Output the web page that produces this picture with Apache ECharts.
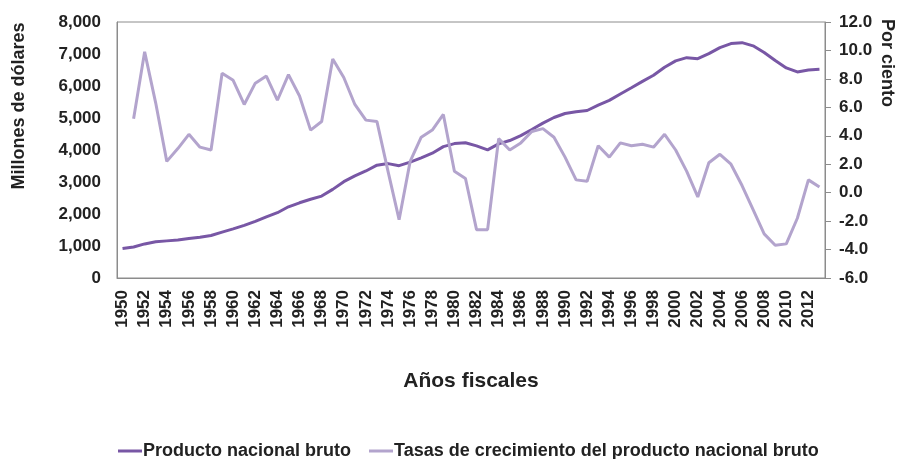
<!DOCTYPE html>
<html>
<head>
<meta charset="utf-8">
<script src="https://cdn.jsdelivr.net/npm/echarts@6/dist/echarts.min.js"></script>
<style>
    html, body { margin: 0; padding: 0; background: #fff; }
    #main { width: 897px; height: 459px; }
</style>
</head>
<body>
<div id="main"></div>
<script>
// años fiscales 1950-2013
const years = []
for (let y = 1950; y <= 2013; y++) years.push(String(y))

// Producto nacional bruto (millones de dólares)
const pnb = [
    920, 970, 1065, 1130, 1160, 1190, 1235, 1275, 1330, 1435,
    1535, 1645, 1770, 1910, 2040, 2225, 2350, 2460, 2560, 2770,
    3010, 3190, 3345, 3525, 3575, 3510, 3620, 3755, 3900, 4105,
    4200, 4225, 4130, 4005, 4190, 4295, 4450, 4640, 4840, 5015,
    5140, 5195, 5235, 5405, 5550, 5750, 5945, 6145, 6335, 6585,
    6785, 6885, 6855, 7010, 7200, 7325, 7355, 7255, 7045, 6795,
    6565, 6440, 6500, 6520
]

// Tasas de crecimiento (por ciento), 1950 sin dato
const tasas = [
    null, 5.2, 9.9, 6.3, 2.2, 3.1, 4.1, 3.2, 3.0, 8.4,
    7.9, 6.2, 7.7, 8.2, 6.5, 8.3, 6.8, 4.4, 5.0, 9.4,
    8.1, 6.2, 5.1, 5.0, 1.5, -1.9, 2.2, 3.9, 4.4, 5.5,
    1.5, 1.0, -2.6, -2.6, 3.8, 3.0, 3.5, 4.3, 4.5, 3.9,
    2.5, 0.9, 0.8, 3.3, 2.5, 3.5, 3.3, 3.4, 3.2, 4.1,
    3.0, 1.5, -0.3, 2.1, 2.7, 2.0, 0.5, -1.2, -2.9, -3.7,
    -3.6, -1.8, 0.9, 0.4
]

const leftTicks = { min: 0, max: 8000, interval: 1000 }
const rightTicks = { min: -6, max: 12, interval: 2 }

const font = 'Liberation Sans, Arial, sans-serif'
const axisGray = '#8c8c8c'

let chart = echarts.init(document.getElementById('main'))
let option = {
    animation: false,
    textStyle: { fontFamily: font },
    grid: {
        left: 117, right: 72, top: 22, bottom: 181,
        show: true, borderColor: axisGray, borderWidth: 1
    },
    legend: {
        bottom: -6,
        left: 113,
        itemWidth: 24,
        itemHeight: 3,
        itemGap: 18,
        icon: 'rect',
        textStyle: { fontSize: 18, fontWeight: 'bold', color: '#222', fontFamily: font, padding: [0, 0, 0, -4] },
        data: ['Producto nacional bruto', 'Tasas de crecimiento del producto nacional bruto']
    },
    xAxis: {
        type: 'category',
        data: years,
        boundaryGap: true,
        name: 'Años fiscales',
        nameLocation: 'middle',
        nameGap: 93,
        nameTextStyle: { fontSize: 21, fontWeight: 'bold', color: '#222' },
        axisLine: { lineStyle: { color: axisGray } },
        axisTick: { show: false },
        axisLabel: {
            interval: 1, rotate: 90, margin: 12,
            fontSize: 17, fontWeight: 'bold', color: '#222'
        }
    },
    yAxis: [
        {
            type: 'value',
            min: leftTicks.min, max: leftTicks.max, interval: leftTicks.interval,
            splitLine: { show: false },
            axisLine: { show: true, lineStyle: { color: axisGray } },
            axisTick: { show: false },
            axisLabel: {
                margin: 16, fontSize: 17, fontWeight: 'bold', color: '#222',
                formatter: v => v.toLocaleString('en-US')
            }
        },
        {
            type: 'value',
            position: 'right',
            min: rightTicks.min, max: rightTicks.max, interval: rightTicks.interval,
            splitLine: { show: false },
            axisLine: { show: true, lineStyle: { color: axisGray } },
            axisTick: { show: true, length: 6, lineStyle: { color: axisGray } },
            axisLabel: {
                margin: 14, fontSize: 17, fontWeight: 'bold', color: '#222',
                formatter: v => v.toFixed(1)
            }
        }
    ],
    graphic: [
        {
            type: 'text', x: 19, y: 106, rotation: Math.PI / 2,
            style: {
                text: 'Millones de dólares', fill: '#222', font: 'bold 18px ' + font,
                textAlign: 'center', textVerticalAlign: 'middle'
            }
        },
        {
            type: 'text', x: 887, y: 63, rotation: -Math.PI / 2,
            style: {
                text: 'Por ciento', fill: '#222', font: 'bold 18px ' + font,
                textAlign: 'center', textVerticalAlign: 'middle'
            }
        }
    ],
    series: [
        {
            name: 'Producto nacional bruto',
            type: 'line',
            yAxisIndex: 0,
            data: pnb,
            symbol: 'none',
            color: '#7857a5',
            lineStyle: { width: 3, color: '#7857a5' }
        },
        {
            name: 'Tasas de crecimiento del producto nacional bruto',
            type: 'line',
            yAxisIndex: 1,
            data: tasas,
            symbol: 'none',
            color: '#b3a4cd',
            lineStyle: { width: 3, color: '#b3a4cd' }
        }
    ]
}
chart.setOption(option)
</script>
</body>
</html>
